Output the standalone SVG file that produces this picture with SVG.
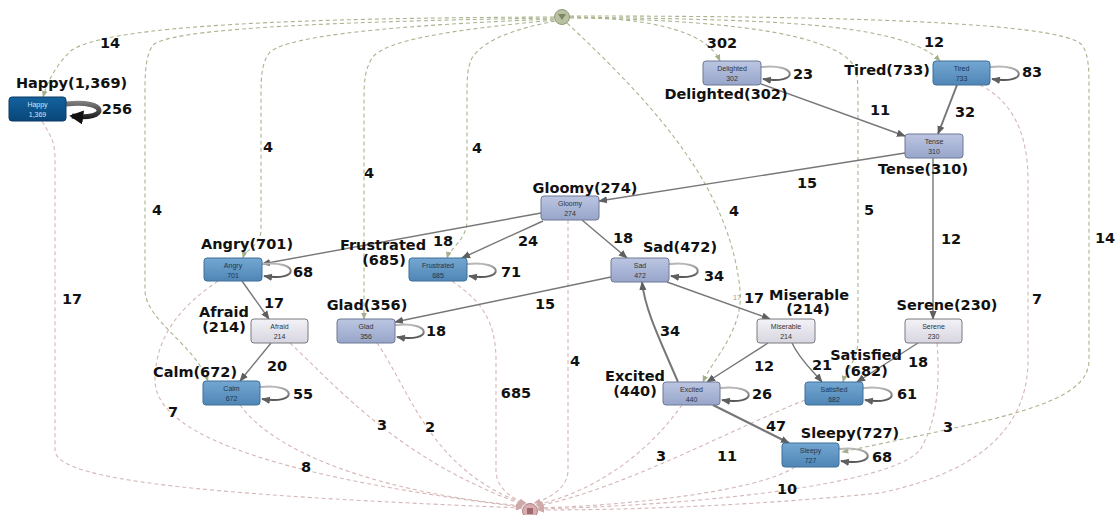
<svg xmlns="http://www.w3.org/2000/svg" width="1115" height="515" viewBox="0 0 1115 515">
<style>
.lbl{font-family:"DejaVu Sans",sans-serif;font-weight:bold;font-size:14.5px;fill:#111;text-anchor:middle}
.in{font-family:"Liberation Sans",sans-serif;font-size:7px;text-anchor:middle;fill:#333}
.inw{font-family:"Liberation Sans",sans-serif;font-size:7px;text-anchor:middle;fill:#d4e4f4}
.inb{font-family:"Liberation Sans",sans-serif;font-size:7px;text-anchor:middle;fill:#1d3552}
.g{fill:none;stroke:#a9b48e;stroke-width:1.1;stroke-dasharray:4 3;marker-end:url(#ag)}
.p{fill:none;stroke:#d6b6b6;stroke-width:1.1;stroke-dasharray:4 3;marker-end:url(#ap)}
.e{fill:none;stroke:#777;stroke-width:1.4;marker-end:url(#as)}
.loop{fill:none;stroke:url(#lg);stroke-width:2;marker-end:url(#as)}
.nb{fill:url(#mb);stroke:#3f6f98;stroke-width:1}
.nl{fill:url(#lv);stroke:#6c7894;stroke-width:1}
.ng{fill:url(#lgy);stroke:#7a7a80;stroke-width:1}
</style>
<defs>
<linearGradient id="mb" x1="0" y1="0" x2="0" y2="1"><stop offset="0" stop-color="#74a7d2"/><stop offset="1" stop-color="#4f86b6"/></linearGradient>
<linearGradient id="db" x1="0" y1="0" x2="0" y2="1"><stop offset="0" stop-color="#14629e"/><stop offset="1" stop-color="#094678"/></linearGradient>
<linearGradient id="lv" x1="0" y1="0" x2="0" y2="1"><stop offset="0" stop-color="#bcc6e2"/><stop offset="1" stop-color="#97a5ca"/></linearGradient>
<linearGradient id="lgy" x1="0" y1="0" x2="0" y2="1"><stop offset="0" stop-color="#f3f2f7"/><stop offset="1" stop-color="#d7d5df"/></linearGradient>
<linearGradient id="lg" x1="0" y1="0" x2="0" y2="1"><stop offset="0" stop-color="#b8b8b8"/><stop offset="1" stop-color="#555"/></linearGradient>
<linearGradient id="hg" gradientUnits="userSpaceOnUse" x1="0" y1="100" x2="0" y2="120"><stop offset="0" stop-color="#8a8a8a"/><stop offset="1" stop-color="#111"/></linearGradient>
<marker id="as" markerUnits="userSpaceOnUse" viewBox="0 0 10 10" refX="9" refY="5" markerWidth="9" markerHeight="9" orient="auto"><path d="M0,1 L10,5 L0,9 z" fill="#5f5f5f"/></marker>
<marker id="ah" markerUnits="userSpaceOnUse" viewBox="0 0 10 10" refX="8" refY="5" markerWidth="14" markerHeight="14" orient="auto"><path d="M0,0 L10,5 L0,10 z" fill="#111"/></marker>
<marker id="ag" markerUnits="userSpaceOnUse" viewBox="0 0 10 10" refX="9" refY="5" markerWidth="7" markerHeight="7" orient="auto"><path d="M0,1 L10,5 L0,9 z" fill="#a3b08a"/></marker>
<marker id="ap" markerUnits="userSpaceOnUse" viewBox="0 0 10 10" refX="9" refY="5" markerWidth="7" markerHeight="7" orient="auto"><path d="M0,1 L10,5 L0,9 z" fill="#cfa9a9"/></marker>
</defs>
<rect width="1115" height="515" fill="#fff"/>
<g id="connectors">
<path class="g" d="M554,17 C300,18 110,25 72,50 C58,62 48,80 43,97"/>
<path class="g" d="M554,18 C300,22 170,30 153,45 C146,55 145,70 145,90 L145,290 C145,320 195,345 208,381"/>
<path class="g" d="M554,19 C400,25 290,35 270,52 C262,62 261,75 261,95 L261,230 C261,245 245,250 243,258"/>
<path class="g" d="M554,20 C450,30 385,40 372,58 C365,70 364,80 364,100 L364,319"/>
<path class="g" d="M555,21 C520,28 485,38 472,58 C467,68 467,80 467,100 L467,220 C467,240 450,248 447,258"/>
<path class="g" d="M567,23 C660,110 730,190 740,290 C744,330 712,360 703,382"/>
<path class="g" d="M570,17 C640,18 705,28 720,61"/>
<path class="g" d="M570,18 C760,20 845,40 856,70 C858,80 858,90 858,110 L858,340 C858,360 846,370 843,382"/>
<path class="g" d="M570,17 C750,20 900,20 940,61"/>
<path class="g" d="M570,16 C800,16 1060,20 1082,45 C1089,55 1089,70 1089,90 L1089,360 C1089,405 1000,418 842,452"/>
<path class="p" d="M42,121 C50,135 55,140 55,160 L55,450 C55,480 200,495 522,508"/>
<path class="p" d="M218,281 C190,300 155,330 155,380 C155,440 300,480 522,507"/>
<path class="p" d="M240,405 C280,460 400,495 523,506"/>
<path class="p" d="M290,343 C340,390 400,460 524,505"/>
<path class="p" d="M377,343 C410,390 430,470 525,504"/>
<path class="p" d="M452,281 C480,300 496,320 496,360 L496,470 C496,490 515,500 526,503"/>
<path class="p" d="M568,220 L568,470 C568,490 545,500 534,503"/>
<path class="p" d="M682,405 C650,450 600,490 536,505"/>
<path class="p" d="M805,400 C730,430 620,490 537,506"/>
<path class="p" d="M795,467 C760,490 640,505 538,508"/>
<path class="p" d="M937,343 C940,380 938,420 920,450 C890,485 700,505 538,509"/>
<path class="p" d="M980,85 C1010,100 1028,130 1028,180 L1028,360 C1028,420 990,470 880,493 C760,505 640,510 538,510"/>
<path class="e" d="M761,84 L905,136"/>
<path class="e" style="stroke-width:2" d="M957,85 L938,134"/>
<path class="e" d="M905,153 L599,201"/>
<path class="e" d="M933,158 L933,319"/>
<path class="e" d="M541,213 L262,264"/>
<path class="e" d="M543,221 L462,258"/>
<path class="e" d="M582,220 L627,258"/>
<path class="e" d="M611,277 L395,322"/>
<path class="e" d="M667,282 L770,319"/>
<path class="e" style="stroke-width:2" d="M678,382 C660,340 645,310 642,282"/>
<path class="e" d="M242,281 L269,319"/>
<path class="e" d="M271,343 L240,381"/>
<path class="e" d="M768,343 L707,382"/>
<path class="e" d="M792,343 C800,360 812,370 822,382"/>
<path class="e" d="M918,343 L857,382"/>
<path class="e" style="stroke-width:2.4" d="M713,405 L789,443"/>
<path d="M66,104 C109,99 109,121 72,116" fill="none" stroke="url(#hg)" stroke-width="5" marker-end="url(#ah)"/>
<path class="loop" d="M761,67 C799,63 799,85 763,79"/>
<path class="loop" d="M990,67 C1028,63 1028,85 992,79"/>
<path class="loop" d="M262,264 C300,260 300,282 264,276"/>
<path class="loop" d="M467,264 C505,260 505,282 469,276"/>
<path class="loop" d="M669,264 C707,260 707,282 671,276"/>
<path class="loop" d="M395,325 C433,321 433,343 397,337"/>
<path class="loop" d="M260,387 C298,383 298,405 262,399"/>
<path class="loop" d="M720,388 C758,384 758,406 722,400"/>
<path class="loop" d="M863,388 C901,384 901,406 865,400"/>
<path class="loop" d="M839,449 C877,445 877,467 841,461"/>
<text class="lbl" x="110" y="48">14</text>
<text class="lbl" x="157" y="215">4</text>
<text class="lbl" x="268" y="152">4</text>
<text class="lbl" x="369" y="178">4</text>
<text class="lbl" x="477" y="153">4</text>
<text class="lbl" x="734" y="216">4</text>
<text class="lbl" x="722" y="48">302</text>
<text class="lbl" x="869" y="215">5</text>
<text class="lbl" x="934" y="47">12</text>
<text class="lbl" x="1105" y="243">14</text>
<text class="lbl" x="72" y="304">17</text>
<text class="lbl" x="173" y="417">7</text>
<text class="lbl" x="306" y="472">8</text>
<text class="lbl" x="382" y="430">3</text>
<text class="lbl" x="430" y="432">2</text>
<text class="lbl" x="516" y="398">685</text>
<text class="lbl" x="575" y="366">4</text>
<text class="lbl" x="661" y="461">3</text>
<text class="lbl" x="727" y="461">11</text>
<text class="lbl" x="787" y="494">10</text>
<text class="lbl" x="948" y="432">3</text>
<text class="lbl" x="1037" y="304">7</text>
<text class="lbl" x="880" y="115">11</text>
<text class="lbl" x="965" y="117">32</text>
<text class="lbl" x="807" y="188">15</text>
<text class="lbl" x="951" y="244">12</text>
<text class="lbl" x="443" y="246">18</text>
<text class="lbl" x="528" y="246">24</text>
<text class="lbl" x="623" y="243">18</text>
<text class="lbl" x="545" y="309">15</text>
<text class="lbl" x="754" y="303">17</text>
<text x="737" y="300" style="font-family:'Liberation Sans',sans-serif;font-size:7px;fill:#999;text-anchor:middle">17</text>
<text class="lbl" x="670" y="336">34</text>
<text class="lbl" x="274" y="308">17</text>
<text class="lbl" x="277" y="371">20</text>
<text class="lbl" x="764" y="371">12</text>
<text class="lbl" x="822" y="370">21</text>
<text class="lbl" x="918" y="367">18</text>
<text class="lbl" x="776" y="431">47</text>
<text class="lbl" x="117" y="114">256</text>
<text class="lbl" x="803" y="79">23</text>
<text class="lbl" x="1032" y="77">83</text>
<text class="lbl" x="303" y="277">68</text>
<text class="lbl" x="511" y="277">71</text>
<text class="lbl" x="714" y="281">34</text>
<text class="lbl" x="436" y="336">18</text>
<text class="lbl" x="303" y="399">55</text>
<text class="lbl" x="762" y="399">26</text>
<text class="lbl" x="907" y="399">61</text>
<text class="lbl" x="882" y="462">68</text>
</g>
<g id="start"><circle cx="562" cy="17" r="7.5" fill="#b8c1a2" stroke="#8e9978"/><path d="M558,14 L566,14 L562,20 z" fill="#7b8664"/></g>
<g id="end"><circle cx="530" cy="511" r="7.5" fill="#d9adb0" stroke="#b08589"/><rect x="527" y="508" width="6" height="6" fill="#9e6a70"/></g>
<g id="node-happy"><rect x="9" y="97" width="57" height="24" rx="3" fill="url(#db)" stroke="#0c3a62"/><text class="inw" x="37.5" y="107">Happy</text><text class="inw" x="37.5" y="117">1,369</text><text class="lbl" x="71.5" y="88">Happy(1,369)</text></g>
<g id="node-delighted"><rect x="703" y="61" width="58" height="24" rx="3" class="nl"/><text class="in" x="732" y="71">Delighted</text><text class="in" x="732" y="81">302</text><text class="lbl" x="726" y="99">Delighted(302)</text></g>
<g id="node-tired"><rect x="933" y="61" width="57" height="24" rx="3" class="nb"/><text class="inb" x="961.5" y="71">Tired</text><text class="inb" x="961.5" y="81">733</text><text class="lbl" x="887" y="75">Tired(733)</text></g>
<g id="node-tense"><rect x="905" y="134" width="58" height="24" rx="3" class="nl"/><text class="in" x="934" y="144">Tense</text><text class="in" x="934" y="154">310</text><text class="lbl" x="923" y="174">Tense(310)</text></g>
<g id="node-gloomy"><rect x="541" y="196" width="58" height="24" rx="3" class="nl"/><text class="in" x="570" y="206">Gloomy</text><text class="in" x="570" y="216">274</text><text class="lbl" x="585" y="193">Gloomy(274)</text></g>
<g id="node-angry"><rect x="204" y="258" width="58" height="23" rx="3" class="nb"/><text class="inb" x="233" y="268">Angry</text><text class="inb" x="233" y="278">701</text><text class="lbl" x="247" y="249">Angry(701)</text></g>
<g id="node-frustrated"><rect x="409" y="258" width="58" height="23" rx="3" class="nb"/><text class="inb" x="438" y="268">Frustrated</text><text class="inb" x="438" y="278">685</text><text class="lbl" x="383" y="250">Frustrated</text><text class="lbl" x="384" y="265">(685)</text></g>
<g id="node-sad"><rect x="611" y="258" width="58" height="24" rx="3" class="nl"/><text class="in" x="640" y="268">Sad</text><text class="in" x="640" y="278">472</text><text class="lbl" x="680" y="252">Sad(472)</text></g>
<g id="node-afraid"><rect x="251" y="319" width="57" height="24" rx="3" class="ng"/><text class="in" x="279.5" y="329">Afraid</text><text class="in" x="279.5" y="339">214</text><text class="lbl" x="224" y="317">Afraid</text><text class="lbl" x="224" y="332">(214)</text></g>
<g id="node-glad"><rect x="337" y="319" width="58" height="24" rx="3" class="nl"/><text class="in" x="366" y="329">Glad</text><text class="in" x="366" y="339">356</text><text class="lbl" x="367" y="310">Glad(356)</text></g>
<g id="node-miserable"><rect x="757" y="319" width="58" height="24" rx="3" class="ng"/><text class="in" x="786" y="329">Miserable</text><text class="in" x="786" y="339">214</text><text class="lbl" x="809" y="300">Miserable</text><text class="lbl" x="808" y="314">(214)</text></g>
<g id="node-serene"><rect x="905" y="319" width="57" height="24" rx="3" class="ng"/><text class="in" x="933.5" y="329">Serene</text><text class="in" x="933.5" y="339">230</text><text class="lbl" x="947" y="310">Serene(230)</text></g>
<g id="node-calm"><rect x="203" y="381" width="57" height="24" rx="3" class="nb"/><text class="inb" x="231.5" y="391">Calm</text><text class="inb" x="231.5" y="401">672</text><text class="lbl" x="195" y="377">Calm(672)</text></g>
<g id="node-excited"><rect x="663" y="382" width="57" height="23" rx="3" class="nl"/><text class="in" x="691.5" y="392">Excited</text><text class="in" x="691.5" y="402">440</text><text class="lbl" x="635" y="381">Excited</text><text class="lbl" x="635" y="396">(440)</text></g>
<g id="node-satisfied"><rect x="805" y="382" width="58" height="23" rx="3" class="nb"/><text class="inb" x="834" y="392">Satisfied</text><text class="inb" x="834" y="402">682</text><text class="lbl" x="866" y="360">Satisfied</text><text class="lbl" x="866" y="376">(682)</text></g>
<g id="node-sleepy"><rect x="782" y="443" width="57" height="24" rx="3" class="nb"/><text class="inb" x="810.5" y="453">Sleepy</text><text class="inb" x="810.5" y="463">727</text><text class="lbl" x="850" y="438">Sleepy(727)</text></g>
</svg>
